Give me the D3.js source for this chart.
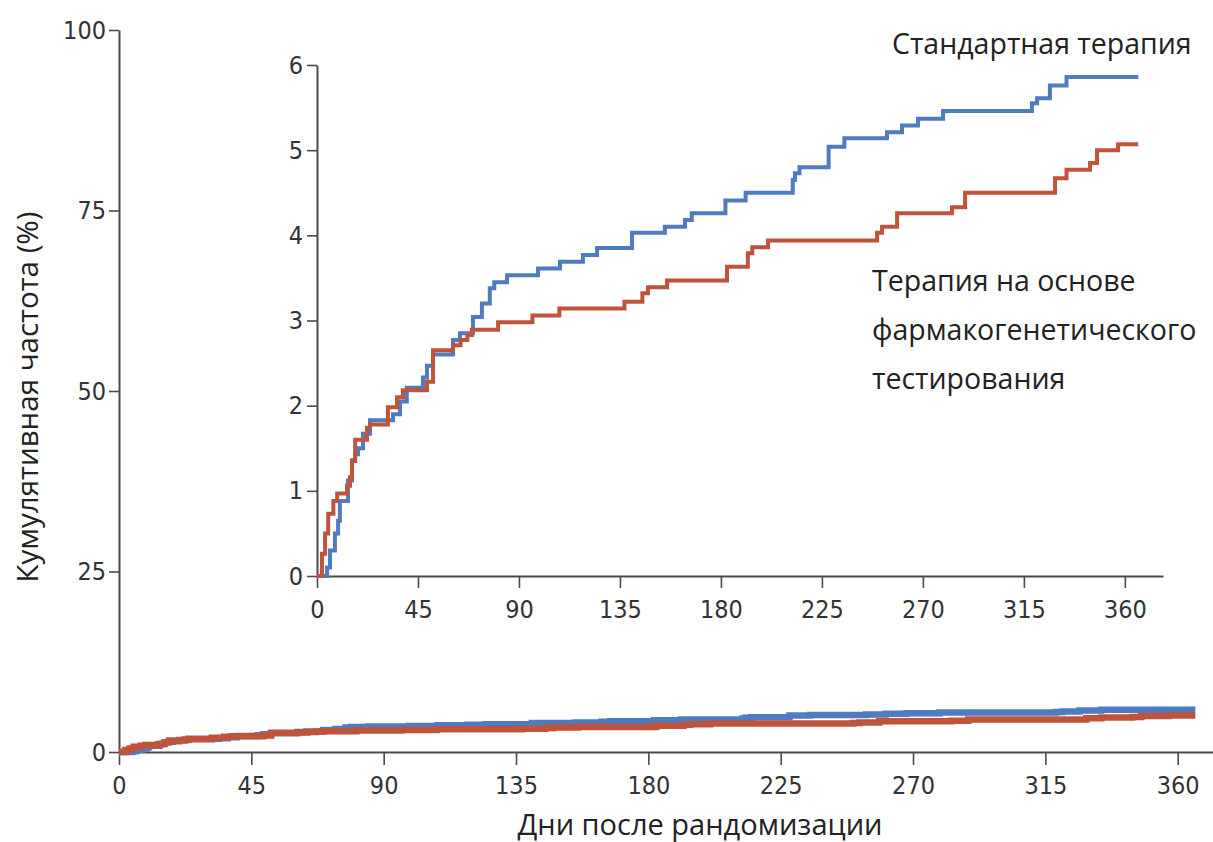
<!DOCTYPE html>
<html>
<head>
<meta charset="utf-8">
<script src="https://cdn.jsdelivr.net/npm/d3@7"></script>
<style>
  body { margin: 0; background: #fff; }
  svg { display: block; }
</style>
</head>
<body>
<svg id="chart" width="1213" height="842"></svg>
<script>
// Step points (day, cumulative %)
var stdDays = [0, 4.5, 5.8, 8, 9.4, 10.2, 13.8, 15.6, 17, 18.3, 20.5, 23.6, 33.9, 37, 40, 47.2, 49, 51.7, 60.6, 63.7,
    69.5, 73.5, 77, 79, 84.7, 98.5, 108.3, 118.5, 124.8, 140.4, 155, 164, 167, 182, 191, 212, 213, 215, 228, 235,
    254, 260.7, 267.8, 279, 318.6, 320.9, 326.6, 334, 366];
var stdPct = [0, 0.1, 0.3, 0.5, 0.65, 0.88, 1.12, 1.36, 1.43, 1.5, 1.67, 1.83, 1.9, 2.05, 2.21, 2.33, 2.47, 2.6, 2.77, 2.85,
    3.04, 3.2, 3.38, 3.45, 3.53, 3.61, 3.69, 3.77, 3.85, 4.03, 4.1, 4.18, 4.26, 4.41, 4.5, 4.65, 4.73, 4.8, 5.04, 5.14,
    5.21, 5.29, 5.37, 5.46, 5.55, 5.61, 5.76, 5.86, 5.86];

var pgxDays = [0, 2.2, 3.6, 5, 7.3, 9, 13.4, 14.7, 15.6, 17, 22.3, 23.6, 31.6, 35.7, 38.3, 49, 51.7, 60.6, 64, 67,
    69, 80.7, 96, 108, 137, 145, 147.5, 156, 182.7, 192, 194, 201, 249.6, 251.8, 258.5, 283, 288.8, 328.9, 334,
    344.5, 347.6, 357, 366];
var pgxPct = [0, 0.26, 0.5, 0.73, 0.88, 0.97, 1.06, 1.16, 1.35, 1.6, 1.74, 1.78, 1.98, 2.1, 2.18, 2.28, 2.65, 2.71, 2.77, 2.83,
    2.89, 2.98, 3.06, 3.14, 3.22, 3.32, 3.39, 3.47, 3.63, 3.79, 3.86, 3.94, 4.03, 4.1, 4.26, 4.33, 4.5, 4.67, 4.77,
    4.85, 5.0, 5.07, 5.07];

var dayTicks = [0, 45, 90, 135, 180, 225, 270, 315, 360];
var mainPctTicks = [0, 25, 50, 75, 100];
var insetPctTicks = [0, 1, 2, 3, 4, 5, 6];

var seriesNames = ['Стандартная терапия', 'Терапия на основе фармакогенетического тестирования'];
var seriesColors = ['#4f7bc1', '#c0533c'];

var series = [
    d3.zip(stdDays, stdPct),
    d3.zip(pgxDays, pgxPct)
];

var svg = d3.select('#chart');
var textFont = '"Open Sans", "Noto Sans", sans-serif';
var numFont = '"Liberation Sans Narrow", "DejaVu Sans Condensed", sans-serif';
var axisColor = '#4a4a4a';
var fmt = d3.format('d');

function styleAxis(g, fontSize) {
    g.select('.domain').attr('stroke', axisColor).attr('stroke-width', 2);
    g.selectAll('.tick line').attr('stroke', axisColor).attr('stroke-width', 1.6);
    g.selectAll('.tick text')
        .attr('fill', '#333')
        .style('font-family', numFont)
        .style('font-size', fontSize + 'px');
}

// main panel
var x = d3.scaleLinear().domain([0, 372]).range([119, 1213]);
var y = d3.scaleLinear().domain([0, 100]).range([752, 30]);

var lineMain = d3.line()
    .x(function (d) { return x(d[0]); })
    .y(function (d) { return y(d[1]); })
    .curve(d3.curveStepAfter);

svg.append('g')
    .attr('transform', 'translate(0,752)')
    .call(d3.axisBottom(x).tickValues(dayTicks).tickFormat(fmt).tickSize(13).tickSizeOuter(0).tickPadding(11))
    .call(styleAxis, 25);

svg.append('g')
    .attr('transform', 'translate(119,0)')
    .call(d3.axisLeft(y).tickValues(mainPctTicks).tickFormat(fmt).tickSize(10).tickSizeOuter(0).tickPadding(3))
    .call(styleAxis, 25);

svg.append('g').selectAll('path')
    .data(series)
    .enter().append('path')
    .attr('d', lineMain)
    .attr('fill', 'none')
    .attr('stroke', function (d, i) { return seriesColors[i]; })
    .attr('stroke-width', 6.5);

// inset panel
var xi = d3.scaleLinear().domain([0, 377]).range([317, 1163]);
var yi = d3.scaleLinear().domain([0, 6]).range([576, 65]);

var lineInset = d3.line()
    .x(function (d) { return xi(d[0]); })
    .y(function (d) { return yi(d[1]); })
    .curve(d3.curveStepAfter);

svg.append('g')
    .attr('transform', 'translate(0,576)')
    .call(d3.axisBottom(xi).tickValues(dayTicks).tickFormat(fmt).tickSize(12).tickSizeOuter(0).tickPadding(12))
    .call(styleAxis, 25);

svg.append('g')
    .attr('transform', 'translate(317,0)')
    .call(d3.axisLeft(yi).tickValues(insetPctTicks).tickFormat(fmt).tickSize(10).tickSizeOuter(0).tickPadding(4))
    .call(styleAxis, 25);

svg.append('g').selectAll('path')
    .data(series)
    .enter().append('path')
    .attr('d', lineInset)
    .attr('fill', 'none')
    .attr('stroke', function (d, i) { return seriesColors[i]; })
    .attr('stroke-width', 4);

// labels
svg.append('text')
    .attr('x', 892).attr('y', 54)
    .style('font-family', textFont).style('font-size', '28.5px').attr('fill', '#222')
    .text(seriesNames[0]);

var pgxLines = ['Терапия на основе', 'фармакогенетического', 'тестирования'];
svg.append('text')
    .attr('x', 872).attr('y', 291)
    .style('font-family', textFont).style('font-size', '28.5px').attr('fill', '#222')
    .selectAll('tspan')
    .data(pgxLines)
    .enter().append('tspan')
    .attr('x', 872)
    .attr('dy', function (d, i) { return i === 0 ? 0 : 49; })
    .text(function (d) { return d; });

svg.append('text')
    .attr('transform', 'translate(38,397) rotate(-90)')
    .attr('text-anchor', 'middle')
    .style('font-family', textFont).style('font-size', '29.5px').attr('fill', '#222')
    .text('Кумулятивная частота (%)');

svg.append('text')
    .attr('x', 700).attr('y', 835)
    .attr('text-anchor', 'middle')
    .style('font-family', textFont).style('font-size', '29px').attr('fill', '#222')
    .text('Дни после рандомизации');
</script>
</body>
</html>
